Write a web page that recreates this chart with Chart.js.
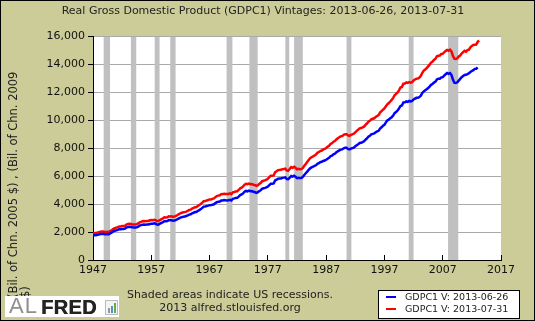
<!DOCTYPE html>
<html>
<head>
<meta charset="utf-8">
<script src="https://cdn.jsdelivr.net/npm/chart.js@4/dist/chart.umd.min.js"></script>
<style>
  body { margin: 0; }
  #wrap { position: relative; width: 535px; height: 321px; background: #CCCC99; overflow: hidden; font-family: "DejaVu Sans", Verdana, sans-serif; }
  #wrap::after { content: ""; position: absolute; left: 0; top: 0; right: 0; bottom: 0; border: 1px solid #000; pointer-events: none; }
  #gdpChart { position: absolute; left: 0; top: 0; }
  #title { position: absolute; left: 0; top: 4px; width: 526px; text-align: center; font-size: 11px; color: #222; }
  #ytitle { position: absolute; left: 7px; top: 298px; width: 236px; font-size: 11.5px; line-height: 12px; color: #222; transform: rotate(-90deg); transform-origin: 0 0; white-space: normal; }
  #note { position: absolute; left: 110px; top: 288px; width: 240px; text-align: center; font-size: 11px; line-height: 13px; color: #222; }
  #logo { position: absolute; left: 5px; top: 296px; width: 114px; height: 21px; background: #fff; font-family: "Liberation Sans", Arial, sans-serif; font-size: 19px; line-height: 22px; }
  #logo .al { position: absolute; left: 4px; top: -1px; color: #8f8f8f; font-size: 22px; letter-spacing: 1px; }
  #logo .fred { position: absolute; left: 36px; top: 0; color: #232323; font-weight: bold; font-size: 20px; letter-spacing: 0.3px; text-shadow: 0.6px 0 #232323; }
  #logo .icon { position: absolute; left: 100px; top: 4px; width: 11px; height: 13px; border: 1px solid #bbb; background: #f4f4f4; }
  #logo .icon i { position: absolute; bottom: 1px; width: 2px; }
  #legend { position: absolute; left: 378px; top: 290px; width: 140px; height: 27px; background: #fff; border: 1px solid #000; font-size: 9.5px; color: #222; }
  #legend .item { position: absolute; left: 0; height: 12px; line-height: 12px; white-space: nowrap; }
  #legend .swatch { position: absolute; left: 7px; top: 5px; width: 10px; height: 2px; }
  #legend .txt { position: absolute; left: 26px; top: 0; }
</style>
</head>
<body>
<div id="wrap">
  <canvas id="gdpChart" width="535" height="321"></canvas>
  <div id="title">Real Gross Domestic Product (GDPC1) Vintages: 2013-06-26, 2013-07-31</div>
  <div id="ytitle">(Bil. of Chn. 2005 $) , (Bil. of Chn. 2009 $)</div>
  <div id="note">Shaded areas indicate US recessions.<br>2013 alfred.stlouisfed.org</div>
  <div id="logo"><span class="al">AL</span><span class="fred">FRED</span><span class="icon"><i style="left:2px;height:5px;background:#8899aa"></i><i style="left:5px;height:7px;background:#5a8fc0"></i><i style="left:8px;height:10px;background:#6aa84f"></i></span></div>
  <div id="legend"></div>
</div>
<script>
// vintage labels + colours
const seriesLabels = ['GDPC1 V: 2013-06-26', 'GDPC1 V: 2013-07-31'];
const seriesColors = ['#0000FF', '#FF0000'];

// first quarter of both series
const firstYear = 1947;

// GDPC1, vintage 2013-06-26 (Bil. of Chn. 2005 $), quarterly 1947Q1 - 2013Q1
const gdpJune = [
  1770.7, 1768.0, 1766.5, 1793.3,   1821.8, 1855.3, 1865.3, 1868.2,
  1842.2, 1835.4, 1856.2, 1845.2,   1914.0, 1971.9, 2048.9, 2086.3,
  2115.9, 2150.8, 2197.7, 2201.1,   2217.9, 2221.2, 2243.6, 2315.7,
  2359.7, 2374.8, 2364.6, 2329.6,   2319.6, 2319.4, 2342.8, 2381.3,
  2451.0, 2488.1, 2516.7, 2535.1,   2521.4, 2543.1, 2541.9, 2574.4,
  2592.7, 2592.5, 2614.3, 2588.8,   2523.6, 2539.3, 2596.7, 2655.7,
  2705.9, 2775.4, 2770.8, 2783.6,   2847.7, 2834.4, 2839.0, 2802.6,
  2819.3, 2872.0, 2918.4, 2977.8,   3031.2, 3064.7, 3093.0, 3100.6,
  3141.1, 3180.4, 3240.3, 3265.0,   3338.2, 3376.6, 3422.5, 3432.1,
  3516.3, 3564.1, 3636.3, 3724.0,   3815.4, 3828.1, 3853.3, 3884.5,
  3918.7, 3919.6, 3950.8, 3981.0,   4063.0, 4131.9, 4160.3, 4178.3,
  4244.1, 4256.5, 4283.4, 4263.3,   4256.6, 4264.3, 4302.3, 4256.6,
  4374.0, 4398.8, 4433.9, 4446.3,   4525.8, 4633.1, 4677.5, 4754.5,
  4876.2, 4932.6, 4906.3, 4953.1,   4909.6, 4922.2, 4873.5, 4854.3,
  4795.3, 4831.9, 4909.1, 4973.3,   5086.3, 5124.6, 5149.7, 5187.9,
  5247.3, 5351.6, 5447.3, 5446.1,   5464.7, 5679.7, 5735.4, 5811.3,
  5821.0, 5826.4, 5868.3, 5884.5,   5903.4, 5782.4, 5771.7, 5878.4,
  5999.1, 5951.2, 6014.4, 5944.8,   5844.7, 5879.3, 5856.1, 5859.6,
  5939.1, 6075.7, 6193.6, 6314.2,   6435.4, 6548.6, 6610.3, 6662.1,
  6719.4, 6765.3, 6870.6, 6921.0,   6991.8, 7016.0, 7075.9, 7106.1,
  7161.7, 7233.6, 7298.9, 7414.5,   7456.7, 7549.7, 7587.8, 7690.9,
  7761.5, 7825.5, 7885.2, 7900.1,   7981.4, 8016.7, 8012.0, 7933.4,
  7895.4, 7951.5, 7994.5, 8024.4,   8118.7, 8196.7, 8274.4, 8361.0,
  8371.4, 8423.9, 8476.7, 8595.6,   8681.3, 8814.2, 8874.2, 8978.3,
  9011.5, 9046.0, 9130.0, 9187.3,   9228.0, 9394.0, 9481.3, 9588.5,
  9646.2, 9832.9, 9963.7, 10041.8,  10127.9, 10200.5, 10315.7, 10492.4,
  10573.7, 10677.1, 10813.3, 11004.4, 11033.6, 11248.8, 11258.3, 11325.0,
  11287.8, 11361.7, 11330.4, 11370.0, 11467.1, 11528.1, 11586.6, 11590.6,
  11638.9, 11737.5, 11930.7, 12038.6, 12117.9, 12195.9, 12286.7, 12387.2,
  12515.0, 12570.7, 12670.5, 12735.6, 12896.4, 12948.7, 12950.4, 13038.4,
  13056.1, 13173.6, 13269.8, 13360.0, 13300.0, 13350.5, 13220.9, 12883.5,
  12663.2, 12641.3, 12694.5, 12813.5, 12937.7, 13058.5, 13139.6, 13216.1,
  13227.9, 13271.8, 13331.6, 13429.0, 13502.4, 13558.0, 13652.5, 13665.4,
  13750.1
];

// GDPC1, vintage 2013-07-31 (Bil. of Chn. 2009 $), quarterly 1947Q1 - 2013Q2
const gdpJuly = [
  1932.6, 1930.4, 1928.4, 1958.8,   1987.5, 2015.0, 2031.2, 2033.5,
  2010.6, 1997.8, 2019.3, 2004.2,   2081.4, 2146.7, 2228.5, 2268.4,
  2308.4, 2348.2, 2391.9, 2398.4,   2423.5, 2428.5, 2446.1, 2526.4,
  2573.4, 2593.5, 2578.9, 2539.8,   2528.0, 2530.7, 2559.4, 2609.3,
  2683.8, 2727.5, 2764.1, 2780.8,   2770.0, 2792.9, 2790.6, 2836.2,
  2854.5, 2848.2, 2875.9, 2846.4,   2772.7, 2790.9, 2855.5, 2922.3,
  2976.6, 3049.0, 3043.1, 3055.1,   3123.2, 3111.3, 3119.1, 3081.3,
  3102.3, 3159.9, 3212.6, 3277.7,   3336.8, 3372.7, 3404.8, 3418.0,
  3456.1, 3501.1, 3569.5, 3595.0,   3672.7, 3716.4, 3766.9, 3780.2,
  3873.5, 3926.4, 4006.2, 4100.6,   4201.9, 4219.1, 4249.2, 4285.6,
  4324.9, 4328.7, 4366.1, 4401.2,   4490.6, 4566.4, 4599.3, 4619.8,
  4691.6, 4706.7, 4736.1, 4715.5,   4707.1, 4715.4, 4757.2, 4708.3,
  4834.3, 4861.9, 4900.0, 4914.3,   5002.4, 5118.3, 5165.4, 5251.2,
  5380.5, 5441.5, 5411.9, 5462.4,   5417.0, 5431.3, 5378.7, 5357.2,
  5292.4, 5333.2, 5421.4, 5494.4,   5618.5, 5661.0, 5689.8, 5732.5,
  5799.2, 5913.0, 6017.6, 6018.2,   6039.2, 6274.0, 6335.3, 6420.3,
  6433.0, 6440.8, 6487.1, 6503.9,   6524.9, 6392.6, 6382.9, 6501.2,
  6635.7, 6587.3, 6662.9, 6585.1,   6475.0, 6510.2, 6486.8, 6493.1,
  6578.2, 6728.3, 6860.0, 7001.5,   7140.6, 7266.0, 7337.5, 7396.0,
  7469.5, 7537.9, 7655.2, 7712.6,   7784.1, 7819.8, 7898.6, 7939.5,
  7995.0, 8084.7, 8158.0, 8292.7,   8339.3, 8449.5, 8498.3, 8610.9,
  8697.7, 8766.1, 8831.5, 8850.2,   8947.1, 8981.7, 8983.9, 8907.4,
  8865.6, 8934.4, 8977.3, 9016.4,   9123.0, 9223.5, 9313.2, 9406.5,
  9424.1, 9480.1, 9526.3, 9653.5,   9748.2, 9881.4, 9939.7, 10052.5,
  10086.9, 10122.1, 10208.8, 10281.2, 10348.7, 10529.4, 10626.8, 10739.1,
  10820.9, 10984.2, 11124.0, 11210.3, 11321.2, 11431.0, 11580.6, 11770.7,
  11864.7, 11962.5, 12113.1, 12323.3, 12359.1, 12592.5, 12607.7, 12679.3,
  12643.3, 12710.3, 12670.1, 12705.3, 12822.3, 12893.0, 12955.8, 12964.0,
  13031.2, 13152.1, 13372.4, 13528.7, 13606.5, 13706.2, 13830.8, 13950.4,
  14099.1, 14172.7, 14291.8, 14373.4, 14546.1, 14589.6, 14602.6, 14716.9,
  14726.0, 14838.7, 14938.5, 15010.0, 14950.0, 15020.4, 14900.6, 14577.0,
  14375.0, 14355.6, 14402.5, 14541.9, 14604.8, 14745.9, 14845.5, 14939.0,
  14881.3, 14989.6, 15021.1, 15190.3, 15291.0, 15362.4, 15380.8, 15384.3,
  15583.9, 15679.7
];

// NBER recessions, peak / trough (decimal years)
const recessionStarts = [1948.83, 1953.50, 1957.58, 1960.25, 1969.92, 1973.83, 1980.00, 1981.50, 1990.50, 2001.17, 2007.92];
const recessionEnds   = [1949.92, 1954.42, 1958.42, 1961.17, 1970.92, 1975.25, 1980.67, 1983.00, 1991.33, 2002.00, 2009.67];

const xTickYears = [1947, 1957, 1967, 1977, 1987, 1997, 2007, 2017];
const yMax = 16000;
const yStep = 2000;

const toPoints = vals => vals.map((v, i) => ({ x: firstYear + i / 4, y: v }));

const recessionBands = {
  id: 'recessionBands',
  beforeDraw(chart) {
    const { ctx, chartArea } = chart;
    ctx.save();
    ctx.fillStyle = '#FFFFFF';
    ctx.fillRect(chartArea.left, chartArea.top, chartArea.right - chartArea.left, chartArea.bottom - chartArea.top);
    ctx.restore();
  },
  beforeDatasetsDraw(chart) {
    const { ctx, chartArea, scales } = chart;
    ctx.save();
    ctx.fillStyle = '#C0C0C0';
    recessionStarts.forEach((s, i) => {
      const x1 = scales.x.getPixelForValue(s);
      const x2 = scales.x.getPixelForValue(recessionEnds[i]);
      ctx.fillRect(x1, chartArea.top + 1, x2 - x1, chartArea.bottom - chartArea.top - 1);
    });
    ctx.restore();
  }
};

const tickFont = { family: '"DejaVu Sans", Verdana, sans-serif', size: 11 };

new Chart(document.getElementById('gdpChart'), {
  type: 'line',
  data: {
    datasets: [gdpJune, gdpJuly].map((vals, i) => ({
      label: seriesLabels[i],
      data: toPoints(vals),
      borderColor: seriesColors[i],
      backgroundColor: seriesColors[i],
      borderWidth: 2.5,
      pointRadius: 0,
      tension: 0,
      fill: false
    }))
  },
  options: {
    responsive: false,
    animation: false,
    layout: { padding: { left: 0, right: 34, top: 36, bottom: 0 } },
    plugins: { legend: { display: false }, tooltip: { enabled: false } },
    scales: {
      x: {
        type: 'linear',
        min: 1947,
        max: 2017,
        afterBuildTicks: s => { s.ticks = xTickYears.map(v => ({ value: v })); },
        afterFit: s => { s.height = 61; },
        grid: { drawOnChartArea: false, color: '#000', tickLength: -5 },
        border: { color: '#000', width: 1 },
        ticks: { padding: 9, color: '#111', font: tickFont, maxRotation: 0, autoSkip: false, callback: v => String(v) }
      },
      y: {
        min: 0,
        max: yMax,
        afterFit: s => { s.width = 93; },
        grid: { color: '#AAAAAA', tickColor: '#000', tickLength: 5 },
        border: { color: '#000', width: 1 },
        ticks: { stepSize: yStep, padding: 3, color: '#111', font: tickFont, callback: v => v.toLocaleString('en-US') }
      }
    }
  },
  plugins: [recessionBands]
});

// legend box from the series labels/colours
const legendEl = document.getElementById('legend');
seriesLabels.forEach((lab, i) => {
  const item = document.createElement('div');
  item.className = 'item';
  item.style.top = (i * 12) + 'px';
  item.innerHTML = '<span class="swatch" style="background:' + seriesColors[i] + '"></span><span class="txt">' + lab + '</span>';
  legendEl.appendChild(item);
});
</script>
</body>
</html>
